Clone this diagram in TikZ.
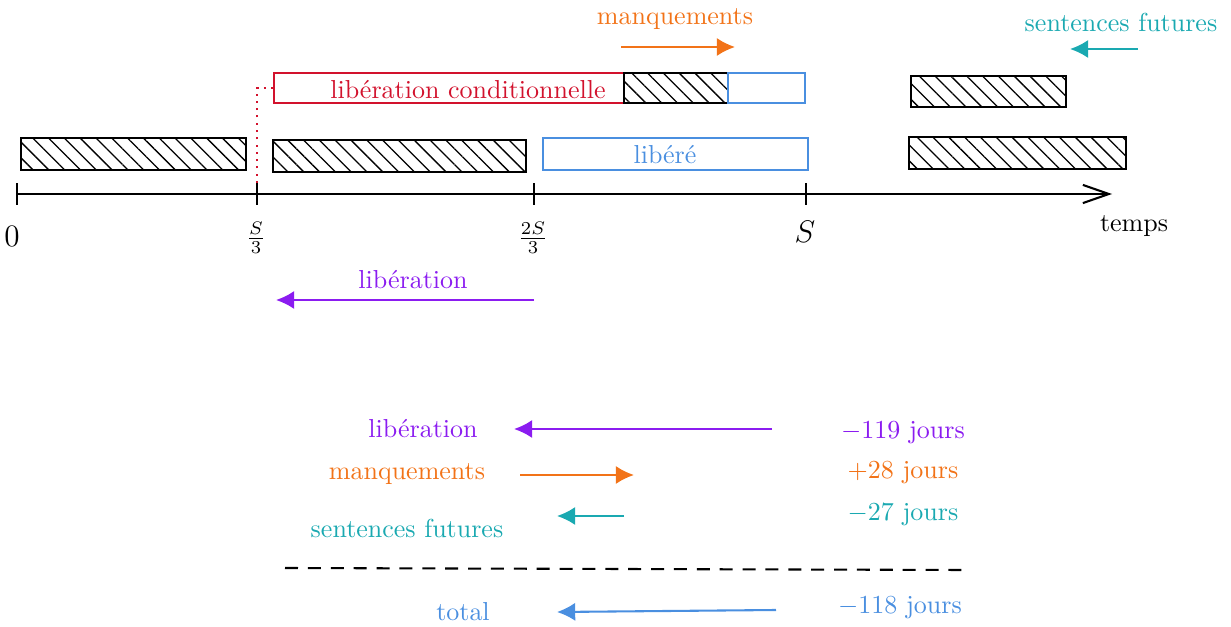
\documentclass[tikz,border=0pt]{standalone}
\usetikzlibrary{arrows.meta, patterns.meta}
\definecolor{libviolet}{HTML}{8B1CF0}
\definecolor{manqorange}{HTML}{F27318}
\definecolor{sentteal}{HTML}{1AA9B1}
\definecolor{condred}{HTML}{D2122D}
\definecolor{librebleu}{HTML}{4A8FE0}

\begin{document}
\begin{tikzpicture}[x=0.01352cm, y=-0.01352cm,
    hatched/.style={draw, thick, pattern={Lines[angle=-45, distance=4.3pt, line width=0.5pt]}},
    boxed/.style={draw, thick},
    jump/.style={-{Latex[length=7pt, width=7pt]}, thick},
    lbl/.style={inner sep=1pt}]
    \useasboundingbox (0,0) rectangle (1231,627);

    % time axis
    \coordinate (t0) at (17,194);
    \coordinate (tend) at (1112,194);
    \draw [thick, -{Straight Barb[length=10pt, width=7pt]}] (t0) -- (tend);
    \foreach \tx/\tname in {17/tz, 257/ta, 534/tb, 806/tc}
        \draw [thick] (\tx,183) -- (\tx,205) coordinate (\tname);
    \node [lbl] (lzero) at (12,236) {\large $0$};
    \node [lbl] (lthird) at (256,238) {$\frac{S}{3}$};
    \node [lbl] (ltwo) at (533,238) {$\frac{2S}{3}$};
    \node [lbl] (lfull) at (805,232) {\large $S$};
    \node [lbl] (ltemps) at (1134,226) {temps};

    % lower row
    \draw [hatched] (21,138) rectangle (246,170);
    \draw [hatched] (273,140) rectangle (526,172);
    \draw [boxed, librebleu] (543,138) rectangle (808,170);
    \node [lbl, text=librebleu] (libre) at (665,155) {libéré};
    \draw [hatched] (909,137) rectangle (1126,169);

    % upper row
    \draw [boxed, condred] (274,73) rectangle (624,103);
    \node [lbl, text=condred] (cond) at (468,90) {libération conditionnelle};
    \draw [hatched] (624,73) rectangle (728,103);
    \draw [boxed, librebleu] (728,73) rectangle (805,103);
    \draw [hatched] (911,76) rectangle (1066,107);
    \draw [condred, thick, dotted] (257,183) -- (257,88) -- (274,88);

    % shifts above the axis
    \node [lbl, text=manqorange] (manqtop) at (675,19) {manquements};
    \coordinate (mA) at (621,47);
    \coordinate (mB) at (735,47);
    \draw [jump, manqorange] (mA) -- (mB);
    \node [lbl, text=sentteal] (senttop) at (1121,22) {sentences futures};
    \coordinate (sA) at (1138,49);
    \coordinate (sB) at (1070,49);
    \draw [jump, sentteal] (sA) -- (sB);
    \node [lbl, text=libviolet] (libtop) at (413,280) {libération};
    \coordinate (lA) at (534,300);
    \coordinate (lB) at (276,300);
    \draw [jump, libviolet] (lA) -- (lB);

    % balance
    \node [lbl, text=libviolet] (libsum) at (423,429) {libération};
    \coordinate (blA) at (772,429);
    \coordinate (blB) at (514,429);
    \draw [jump, libviolet] (blA) -- (blB);
    \node [lbl, text=libviolet] (libval) at (903,433) {$-119$ jours};

    \node [lbl, text=manqorange] (manqsum) at (407,474) {manquements};
    \coordinate (bmA) at (520,475);
    \coordinate (bmB) at (634,475);
    \draw [jump, manqorange] (bmA) -- (bmB);
    \node [lbl, text=manqorange] (manqval) at (903,473) {$+28$ jours};

    \node [lbl, text=sentteal] (sentsum) at (407,528) {sentences futures};
    \coordinate (bsA) at (624,516);
    \coordinate (bsB) at (557,516);
    \draw [jump, sentteal] (bsA) -- (bsB);
    \node [lbl, text=sentteal] (sentval) at (903,515) {$-27$ jours};

    \coordinate (dA) at (285,568);
    \coordinate (dB) at (965,570);
    \draw [thick, dash pattern=on 5pt off 3.8pt] (dA) -- (dB);

    \node [lbl, text=librebleu] (totsum) at (463,612) {total};
    \coordinate (btA) at (776,610);
    \coordinate (btB) at (557,612);
    \draw [jump, librebleu] (btA) -- (btB);
    \node [lbl, text=librebleu] (totval) at (900,608) {$-118$ jours};
\end{tikzpicture}
\end{document}
